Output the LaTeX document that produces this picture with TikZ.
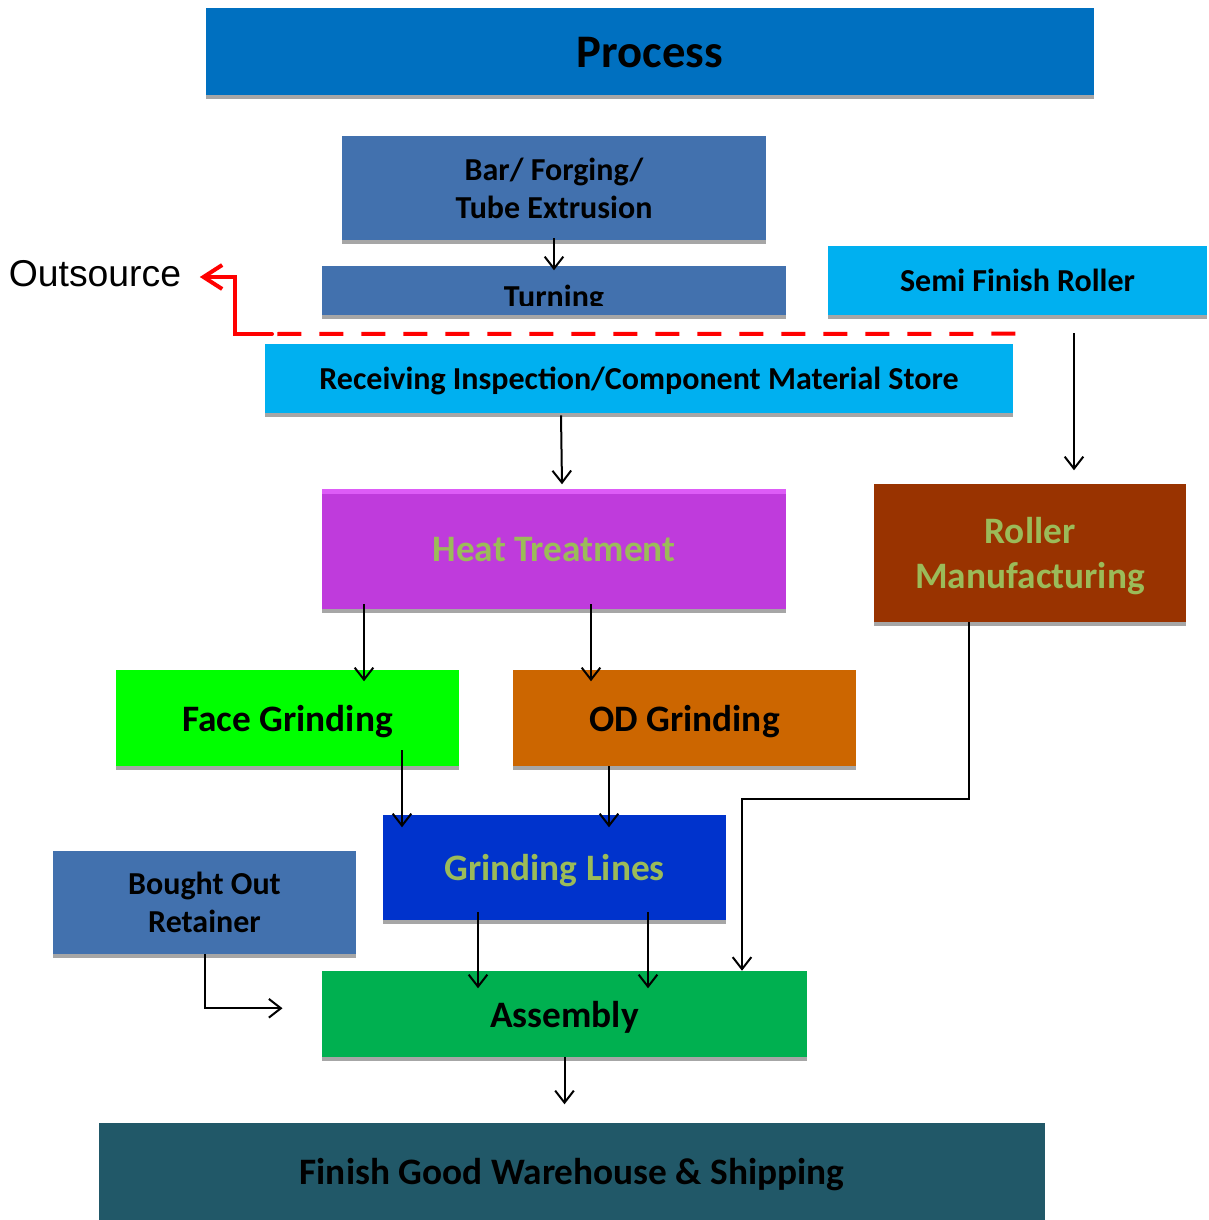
\documentclass[tikz,border=0pt]{standalone}
\usepackage{fontspec}
\setmainfont{Carlito}
\newfontfamily\arialfont{Liberation Sans}
\usetikzlibrary{arrows.meta,calc,shadows}

\definecolor{procblue}{HTML}{0070C0}
\definecolor{steel}{HTML}{4271AE}
\definecolor{skyblue}{HTML}{00B0F0}
\definecolor{heatpurple}{HTML}{BF3BDC}
\definecolor{heattop}{HTML}{DD5CF7}
\definecolor{rollbrown}{HTML}{993300}
\definecolor{facegreen}{HTML}{00FF00}
\definecolor{odorange}{HTML}{CC6600}
\definecolor{grindblue}{HTML}{0033CC}
\definecolor{asmgreen}{HTML}{00B050}
\definecolor{finteal}{HTML}{215868}
\definecolor{olivetext}{HTML}{9BBB59}
\definecolor{shadegray}{HTML}{A6A6A6}
\definecolor{outred}{HTML}{FF0000}

\tikzset{
  box/.style={rectangle, inner sep=0pt, align=center, text=black, text depth=0pt,
    drop shadow={shadow xshift=0pt, shadow yshift=-3pt, fill=shadegray, opacity=1}},
  arr/.style={-{Straight Barb[length=9pt,width=14pt]}, line width=1.5pt},
  redline/.style={draw=outred, line width=3pt},
}
\newcommand{\fs}[1]{\bfseries\fontsize{#1}{1.2\dimexpr#1pt\relax}\selectfont}

\begin{document}
\begin{tikzpicture}[x=0.75pt, y=-0.75pt]
\useasboundingbox (0,0) rectangle (1208,1220);

% boxes
\node[box, fill=procblue, minimum width=666pt, minimum height=65.25pt, font=\fs{35}] (proc) at (650,52) {Process};
\node[box, fill=steel, minimum width=318pt, minimum height=78pt, font=\fs{24}] (bar) at (554,188) {Bar/ Forging/\\Tube Extrusion};
\node[box, fill=steel, minimum width=348pt, minimum height=36.75pt] (turn) at (554,290.5) {};
\begin{scope}
  \clip (turn.north west) rectangle ($(turn.south east)+(0,-10)$);
  \node[anchor=base, font=\fs{24}] (turntxt) at (554,307) {Turning};
\end{scope}
\node[box, fill=skyblue, minimum width=284.25pt, minimum height=51.75pt, font=\fs{24}] (semi) at (1017.5,280.5) {Semi Finish Roller};
\node[box, fill=skyblue, minimum width=561pt, minimum height=51.75pt, font=\fs{24}] (recv) at (639,378.5) {Receiving Inspection/Component Material Store};
\node[box, fill=heatpurple, minimum width=348pt, minimum height=90pt, font=\fs{28}, text=olivetext] (heat) at (554,549) {Heat Treatment};
\fill[heattop] (heat.north west) rectangle ($(heat.north east)+(0,5)$);
\node[box, fill=rollbrown, minimum width=234pt, minimum height=103.5pt, font=\fs{28}, text=olivetext] (roll) at (1030,553) {Roller\\Manufacturing};
\node[box, fill=facegreen, minimum width=257.25pt, minimum height=72pt, font=\fs{28}] (face) at (287.5,718) {Face Grinding};
\node[box, fill=odorange, minimum width=257.25pt, minimum height=72pt, font=\fs{28}] (od) at (684.5,718) {OD Grinding};
\node[box, fill=grindblue, minimum width=257.25pt, minimum height=78.75pt, font=\fs{28}, text=olivetext] (grind) at (554.5,867.5) {Grinding Lines};
\node[box, fill=steel, minimum width=227.25pt, minimum height=77.25pt, font=\fs{24}] (bought) at (204.5,902.5) {Bought Out\\Retainer};
\node[box, fill=asmgreen, minimum width=363.75pt, minimum height=64.5pt, font=\fs{28}] (asm) at (564.5,1014) {Assembly};
\node[box, fill=finteal, minimum width=709.5pt, minimum height=72.75pt, font=\fs{28}] (fin) at (572,1171.5) {Finish Good Warehouse \& Shipping};
\node[font=\arialfont\fontsize{28}{33}\selectfont] (out) at (95,274) {Outsource};

% outsource line
\coordinate (dashend) at ($(recv.north east)+(2,-10)$);
\coordinate (dashbeg) at (272,334);
\draw[redline, dash pattern=on 18pt off 13.5pt] (dashend) -- (dashbeg);
\draw[redline, -{Straight Barb[length=14pt,width=18pt]}, line cap=round, line join=miter] (dashbeg) -- (235,334) -- (235,277) -- ($(out.east)+(14,3)$);

% connectors
\draw[arr] ($(bar.south)+(0,-2)$) -- ++(0,32);
\draw[arr] ($(recv.south)+(-78,2)$) -- ++(1,69);
\draw[arr] ($(semi.south)+(56.5,18)$) -- ++(0,137);
\draw[arr] ($(heat.south)+(-190,-5)$) -- ++(0,77);
\draw[arr] ($(heat.south)+(37,-5)$) -- ++(0,77);
\draw[arr] ($(face.south)+(114.5,-16)$) -- ++(0,77);
\draw[arr] ($(od.south)+(-75.5,0)$) -- ++(0,61);
\draw[arr] ($(grind.south)+(-76.5,-8)$) -- ++(0,76);
\draw[arr] ($(grind.south)+(93.5,-8)$) -- ++(0,76);
\draw[arr, line join=miter] ($(roll.south)+(-61,0)$) -- ++(0,177) -| ($(asm.north)+(177.5,0)$);
\draw[arr, line join=miter] (bought.south) -- ++(0,54) -- ++(78,0);
\draw[arr] (asm.south) -- ++(0,47);
\end{tikzpicture}
\end{document}
